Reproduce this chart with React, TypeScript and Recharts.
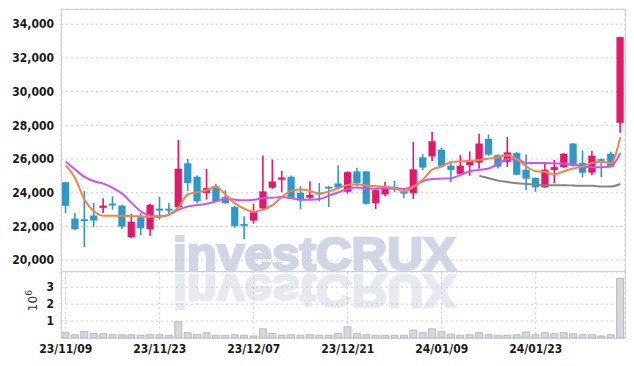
import { Bar, CartesianGrid, ComposedChart, Line, XAxis, YAxis } from "recharts";

const dates = [
  "23/11/09", "23/11/10", "23/11/13", "23/11/14", "23/11/15", "23/11/16", "23/11/17", "23/11/20", "23/11/21", "23/11/22",
  "23/11/23", "23/11/24", "23/11/27", "23/11/28", "23/11/29", "23/11/30", "23/12/01", "23/12/04", "23/12/05", "23/12/06",
  "23/12/07", "23/12/08", "23/12/11", "23/12/12", "23/12/13", "23/12/14", "23/12/15", "23/12/18", "23/12/19", "23/12/20",
  "23/12/21", "23/12/22", "23/12/26", "23/12/27", "23/12/28", "24/01/02", "24/01/03", "24/01/04", "24/01/05", "24/01/08",
  "24/01/09", "24/01/10", "24/01/11", "24/01/12", "24/01/15", "24/01/16", "24/01/17", "24/01/18", "24/01/19", "24/01/22",
  "24/01/23", "24/01/24", "24/01/25", "24/01/26", "24/01/29", "24/01/30", "24/01/31", "24/02/01", "24/02/02", "24/02/05",
];

const opens = [
  24620, 22460, 22420, 22640, 23110, 23350, 23230, 21370, 22540, 21840,
  23050, 23050, 23150, 25740, 24940, 23990, 24390, 23730, 23150, 22140,
  22360, 23080, 24310, 24780, 24940, 23990, 23710, 24000, 24350, 24540,
  24070, 25260, 25260, 23390, 23910, 24350, 24050, 23990, 26090, 26170,
  26550, 25600, 25120, 25640, 25800, 27190, 26230, 25840, 26350, 25360,
  24880, 24330, 25360, 25520, 26910, 25760, 25200, 25990, 26310, 28150,
];
const highs = [
  24650, 22800, 24100, 23390, 23670, 23790, 23290, 22740, 22800, 23350,
  23750, 23390, 27130, 26010, 25020, 25420, 24540, 24150, 23230, 22600,
  23350, 26210, 25970, 25300, 25020, 24390, 24680, 24580, 24390, 25620,
  25260, 25480, 25280, 24190, 24660, 24700, 24230, 27010, 26290, 27600,
  26670, 25760, 26230, 26450, 27500, 27460, 26270, 27300, 26430, 26270,
  24900, 25800, 25950, 26350, 26950, 26510, 26470, 26030, 26430, 33260,
];
const lows = [
  22800, 21800, 20770, 21960, 22800, 23000, 21840, 21310, 21500, 21450,
  22400, 22700, 23090, 24090, 23390, 23590, 23470, 23350, 21920, 21250,
  22160, 23040, 24230, 24030, 23630, 23040, 23590, 23490, 23150, 24270,
  23950, 24390, 23310, 23040, 23790, 24030, 23670, 23630, 25340, 25880,
  25560, 24640, 25080, 25000, 25440, 26190, 25440, 25520, 25040, 24170,
  24050, 24290, 24560, 25480, 25560, 24920, 25040, 24920, 25520, 27560,
];
const closes = [
  23230, 21840, 22380, 22360, 23230, 23320, 22000, 22280, 21900, 23270,
  23030, 23030, 25420, 24580, 23510, 24270, 23510, 23390, 22040, 22040,
  22840, 24070, 24660, 24900, 23670, 23550, 23870, 23980, 24270, 24310,
  25220, 24580, 23350, 24150, 24310, 24190, 24000, 25380, 25500, 27050,
  25600, 25360, 25600, 25910, 26910, 26270, 25560, 26390, 25080, 24840,
  24330, 25360, 25520, 26310, 25600, 25200, 26190, 25910, 25560, 33230,
];

// moving averages (orange, violet, grey)
const ma5 = [
  25620, 24860, 23590, 22900, 22640, 22640, 22640, 22620, 22600, 22560,
  22560, 22700, 23150, 23910, 24030, 24150, 24350, 23880, 23370, 23050,
  22880, 23000, 23270, 23750, 24110, 24190, 24110, 23950, 24070, 24270,
  24460, 24500, 24430, 24390, 24350, 24270, 24070, 24350, 24780, 25380,
  25560, 25820, 25860, 25880, 25950, 26030, 26110, 26230, 25990, 25560,
  25280, 25240, 25080, 25280, 25440, 25560, 25760, 25840, 25760, 27300,
];
const ma20 = [
  25860, 25380, 24940, 24680, 24540, 24290, 23950, 23400, 22900, 22640,
  22600, 22700, 23000, 23190, 23270, 23350, 23490, 23650, 23590, 23560,
  23590, 23670, 23710, 23750, 23670, 23590, 23590, 23630, 23830, 24030,
  24230, 24310, 24270, 24230, 24270, 24270, 24230, 24390, 24700, 24820,
  24840, 24860, 25060, 25280, 25360, 25440, 25720, 25990, 25990, 25760,
  25760, 25760, 25740, 25720, 25680, 25560, 25520, 25520, 25560, 26350,
];
const ma60 = [
  null, null, null, null, null, null, null, null, null, null,
  null, null, null, null, null, null, null, null, null, null,
  null, null, null, null, null, null, null, null, null, null,
  null, null, null, null, null, null, null, null, null, null,
  null, null, null, null, 25000, 24860, 24720, 24640, 24560, 24520,
  24490, 24450, 24450, 24450, 24430, 24410, 24410, 24370, 24370, 24520,
];

// volume in millions of shares
const volumes = [
  0.31, 0.19, 0.39, 0.27, 0.25, 0.19, 0.19, 0.19, 0.16, 0.19,
  0.19, 0.16, 0.97, 0.31, 0.21, 0.31, 0.16, 0.16, 0.19, 0.16,
  0.12, 0.54, 0.27, 0.16, 0.19, 0.16, 0.19, 0.16, 0.16, 0.27,
  0.66, 0.27, 0.19, 0.16, 0.16, 0.16, 0.16, 0.47, 0.31, 0.54,
  0.39, 0.23, 0.16, 0.19, 0.31, 0.19, 0.16, 0.16, 0.19, 0.35,
  0.19, 0.31, 0.25, 0.31, 0.25, 0.19, 0.19, 0.12, 0.19, 3.53,
];

const priceTicks = [20000, 22000, 24000, 26000, 28000, 30000, 32000, 34000];
const volumeTicks = [1, 2, 3];

const UP = "#e2196b";
const DOWN = "#3197c9";
const GRID = "#c9cce0";
const FONT = "'DejaVu Sans Condensed', 'Liberation Sans Narrow', 'DejaVu Sans', sans-serif";
const MARK = "#d1d6e7";

const rows = dates.map((date, i) => ({
  date,
  open: opens[i],
  high: highs[i],
  low: lows[i],
  close: closes[i],
  range: [lows[i], highs[i]],
  ma5: ma5[i],
  ma20: ma20[i],
  ma60: ma60[i],
  vol: volumes[i],
}));

const Candle = (props: any) => {
  const { x, y, width, height, payload } = props;
  if (!payload) return null;
  const { open, close, high, low } = payload;
  const top = height < 0 ? y + height : y;
  const h = Math.abs(height);
  const k = h / (high - low || 1);
  const bodyTop = top + (high - Math.max(open, close)) * k;
  const bodyBottom = top + (high - Math.min(open, close)) * k;
  const color = close >= open ? UP : DOWN;
  const cx = x + width / 2;
  return (
    <g>
      <line x1={cx} x2={cx} y1={top} y2={top + h} stroke={color} strokeWidth={1.6} />
      <rect
        x={x}
        y={bodyTop}
        width={width}
        height={Math.max(bodyBottom - bodyTop, 1.6)}
        fill={color}
        stroke={color}
        strokeOpacity={0.3}
        strokeWidth={1}
      />
    </g>
  );
};

const tickStyle = { fontFamily: FONT, fontSize: 12, fontWeight: 600, fill: "#1a1a1a" };

// volume y tick; the unit label "10^6" sits left of the middle tick
const VolumeTick = (props: any) => {
  const { x, y, payload } = props;
  return (
    <g>
      <text x={x} y={y} dy="0.355em" textAnchor="end" {...tickStyle}>
        {String(payload.value)}
      </text>
      {payload.value === 2 ? (
        <text
          transform={`translate(${x - 17} ${y + 7}) rotate(-90)`}
          fontFamily="'DejaVu Sans', sans-serif"
          fontSize={12}
          fill="#333"
        >
          10
          <tspan dy={-5} fontSize={9}>6</tspan>
        </text>
      ) : null}
    </g>
  );
};

export default function App() {
  return (
    <div style={{ position: "absolute", left: 0, top: 0, width: 634, height: 366, background: "#fff" }}>
      <svg width={634} height={366} style={{ position: "absolute", left: 0, top: 0 }}>
        <text
          x={173}
          y={270}
          textLength={283}
          lengthAdjust="spacingAndGlyphs"
          fontFamily="'Liberation Sans', Arial, sans-serif"
          fontWeight="bold"
          fontSize={47}
          fill={MARK}
          stroke={MARK}
          strokeWidth={2.5}
        >
          investCRUX
        </text>
        <text
          x={173}
          y={270}
          transform="translate(0 545) scale(1 -1)"
          textLength={283}
          lengthAdjust="spacingAndGlyphs"
          fontFamily="'Liberation Sans', Arial, sans-serif"
          fontWeight="bold"
          fontSize={47}
          fill="#e7e9f1"
          stroke="#e7e9f1"
          strokeWidth={2.5}
        >
          investCRUX
        </text>
      </svg>

      <div style={{ position: "absolute", left: 0, top: 0 }}>
        <ComposedChart width={634} height={272} data={rows} margin={{ top: 9, right: 9, left: 0, bottom: 0 }}>
          <CartesianGrid stroke={GRID} strokeDasharray="2 3" />
          <XAxis dataKey="date" interval={9} height={0} tick={false} axisLine={false} tickLine={false} />
          <YAxis
            domain={[19300, 34900]}
            ticks={priceTicks}
            interval={0}
            width={61}
            axisLine={false}
            tickLine={false}
            tickSize={5}
            tickMargin={2}
            tick={tickStyle}
            tickFormatter={(v: number) => v.toLocaleString("en-US")}
          />
          <Bar dataKey="range" barSize={7} shape={<Candle />} isAnimationActive={false} />
          <Line dataKey="ma60" type="monotone" stroke="#858585" strokeWidth={2} dot={false} isAnimationActive={false} />
          <Line dataKey="ma20" type="monotone" stroke="#cc55ee" strokeWidth={2} dot={false} isAnimationActive={false} />
          <Line dataKey="ma5" type="monotone" stroke="#f0854a" strokeWidth={2} dot={false} isAnimationActive={false} />
        </ComposedChart>
      </div>

      <div style={{ position: "absolute", left: 0, top: 272 }}>
        <ComposedChart
          width={634}
          height={94}
          data={rows}
          margin={{ top: 0, right: 9, left: 0, bottom: 0 }}
          barCategoryGap={1}
        >
          <CartesianGrid stroke={GRID} strokeDasharray="2 3" />
          <XAxis
            dataKey="date"
            interval={9}
            height={28}
            axisLine={false}
            tickLine={false}
            tickSize={5}
            tickMargin={1}
            tick={tickStyle}
          />
          <YAxis
            domain={[0, 3.9]}
            ticks={volumeTicks}
            interval={0}
            width={61}
            axisLine={false}
            tickLine={false}
            tickSize={5}
            tickMargin={2}
            tick={<VolumeTick />}
          />
          <Bar dataKey="vol" fill="#d6d6dd" stroke="#b9b9c4" strokeWidth={1} isAnimationActive={false} />
        </ComposedChart>
      </div>

      <div
        style={{
          position: "absolute",
          left: 61,
          top: 9,
          width: 565,
          height: 330,
          border: "1px solid #cfcfd6",
          boxSizing: "border-box",
          pointerEvents: "none",
        }}
      />
      <div style={{ position: "absolute", left: 61, top: 271, width: 565, height: 1, background: "#cfcfd6" }} />
    </div>
  );
}
